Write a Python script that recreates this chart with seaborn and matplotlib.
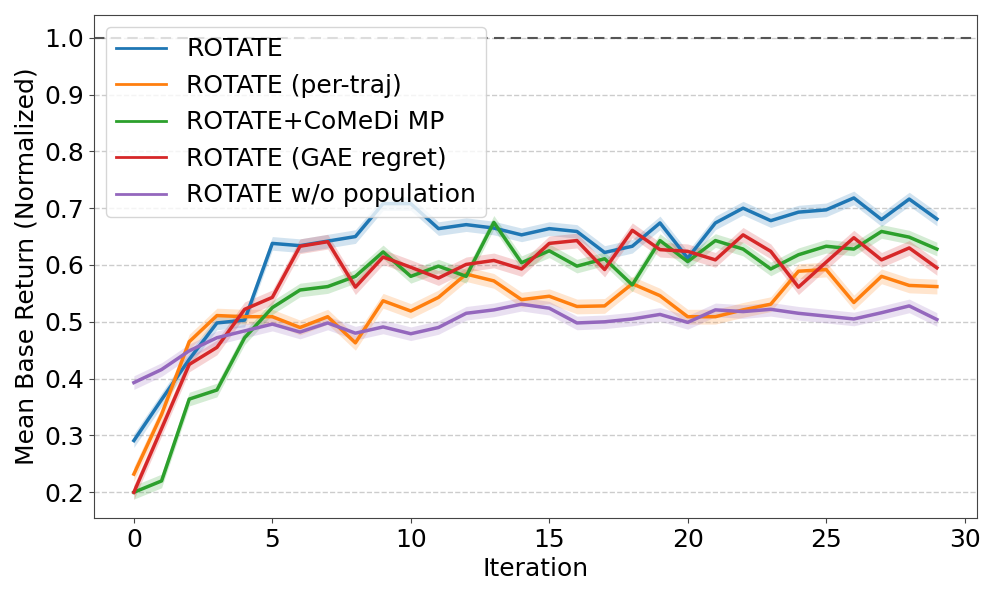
import numpy as np
import pandas as pd
import matplotlib
matplotlib.use("Agg")
import matplotlib.pyplot as plt
import seaborn as sns

iterations = list(range(30))

rotate = [0.291, 0.363, 0.434, 0.498, 0.503, 0.638, 0.634, 0.642, 0.650, 0.708,
          0.708, 0.664, 0.671, 0.665, 0.653, 0.664, 0.659, 0.622, 0.633, 0.674,
          0.612, 0.674, 0.700, 0.678, 0.693, 0.697, 0.718, 0.680, 0.716, 0.681]
per_traj = [0.232, 0.337, 0.465, 0.511, 0.509, 0.509, 0.490, 0.509, 0.463, 0.537,
            0.519, 0.543, 0.584, 0.572, 0.539, 0.545, 0.527, 0.528, 0.567, 0.546,
            0.509, 0.509, 0.521, 0.531, 0.589, 0.592, 0.534, 0.580, 0.564, 0.562]
comedi = [0.200, 0.220, 0.364, 0.380, 0.472, 0.525, 0.556, 0.562, 0.580, 0.623,
          0.580, 0.598, 0.580, 0.675, 0.604, 0.625, 0.598, 0.611, 0.565, 0.643,
          0.606, 0.643, 0.628, 0.593, 0.618, 0.633, 0.628, 0.659, 0.649, 0.628]
gae_regret = [0.200, 0.312, 0.425, 0.455, 0.522, 0.543, 0.633, 0.641, 0.561, 0.614,
              0.596, 0.577, 0.601, 0.608, 0.593, 0.638, 0.643, 0.592, 0.661, 0.627,
              0.624, 0.609, 0.653, 0.624, 0.561, 0.605, 0.648, 0.609, 0.630, 0.595]
no_pop = [0.393, 0.416, 0.449, 0.472, 0.484, 0.496, 0.482, 0.498, 0.480, 0.491,
          0.479, 0.490, 0.515, 0.521, 0.531, 0.524, 0.498, 0.500, 0.505, 0.513,
          0.499, 0.521, 0.518, 0.522, 0.515, 0.510, 0.505, 0.516, 0.528, 0.504]

labels = ["ROTATE", "ROTATE (per-traj)", "ROTATE+CoMeDi MP",
          "ROTATE (GAE regret)", "ROTATE w/o population"]
series = [rotate, per_traj, comedi, gae_regret, no_pop]
half_widths = [0.012, 0.013, 0.012, 0.013, 0.012]
colors = ["#1f77b4", "#ff7f0e", "#2ca02c", "#d62728", "#9467bd"]

plt.rcParams["font.family"] = ["DejaVu Sans"]
plt.rcParams["font.size"] = 18

frames = []
for lab, vals in zip(labels, series):
    frames.append(pd.DataFrame({"Iteration": iterations, "value": vals, "method": lab}))
df = pd.concat(frames, ignore_index=True)

fig, ax = plt.subplots(figsize=(9.97, 5.98), dpi=100)
fig.subplots_adjust(left=0.094, right=0.98, top=0.975, bottom=0.134)

for lab, vals, hw, c in zip(labels, series, half_widths, colors):
    v = np.array(vals)
    ax.fill_between(iterations, v - hw, v + hw, color=c, alpha=0.2, linewidth=0)

sns.lineplot(data=df, x="Iteration", y="value", hue="method", hue_order=labels,
             palette=colors, linewidth=2.5, ax=ax)

ax.axhline(1.0, color="#555555", linestyle="--", linewidth=1.5, dashes=(5, 3))
ax.yaxis.grid(True, linestyle="--", color="#cccccc", linewidth=1)
ax.set_axisbelow(True)
ax.set_xlim(-1.45, 30.45)
ax.set_ylim(0.155, 1.04)
ax.set_yticks([0.2, 0.3, 0.4, 0.5, 0.6, 0.7, 0.8, 0.9, 1.0])
ax.set_xticks([0, 5, 10, 15, 20, 25, 30])
ax.tick_params(labelsize=18, color="#444444")
for s in ax.spines.values():
    s.set_color("#444444")
ax.set_xlabel("Iteration", fontsize=18)
ax.set_ylabel("Mean Base Return (Normalized)", fontsize=18)

leg = ax.legend(loc="upper left", fontsize=18, handlelength=2.0)
for h in leg.get_lines():
    h.set_linewidth(2.0)

fig.savefig("out.png", dpi=100)
